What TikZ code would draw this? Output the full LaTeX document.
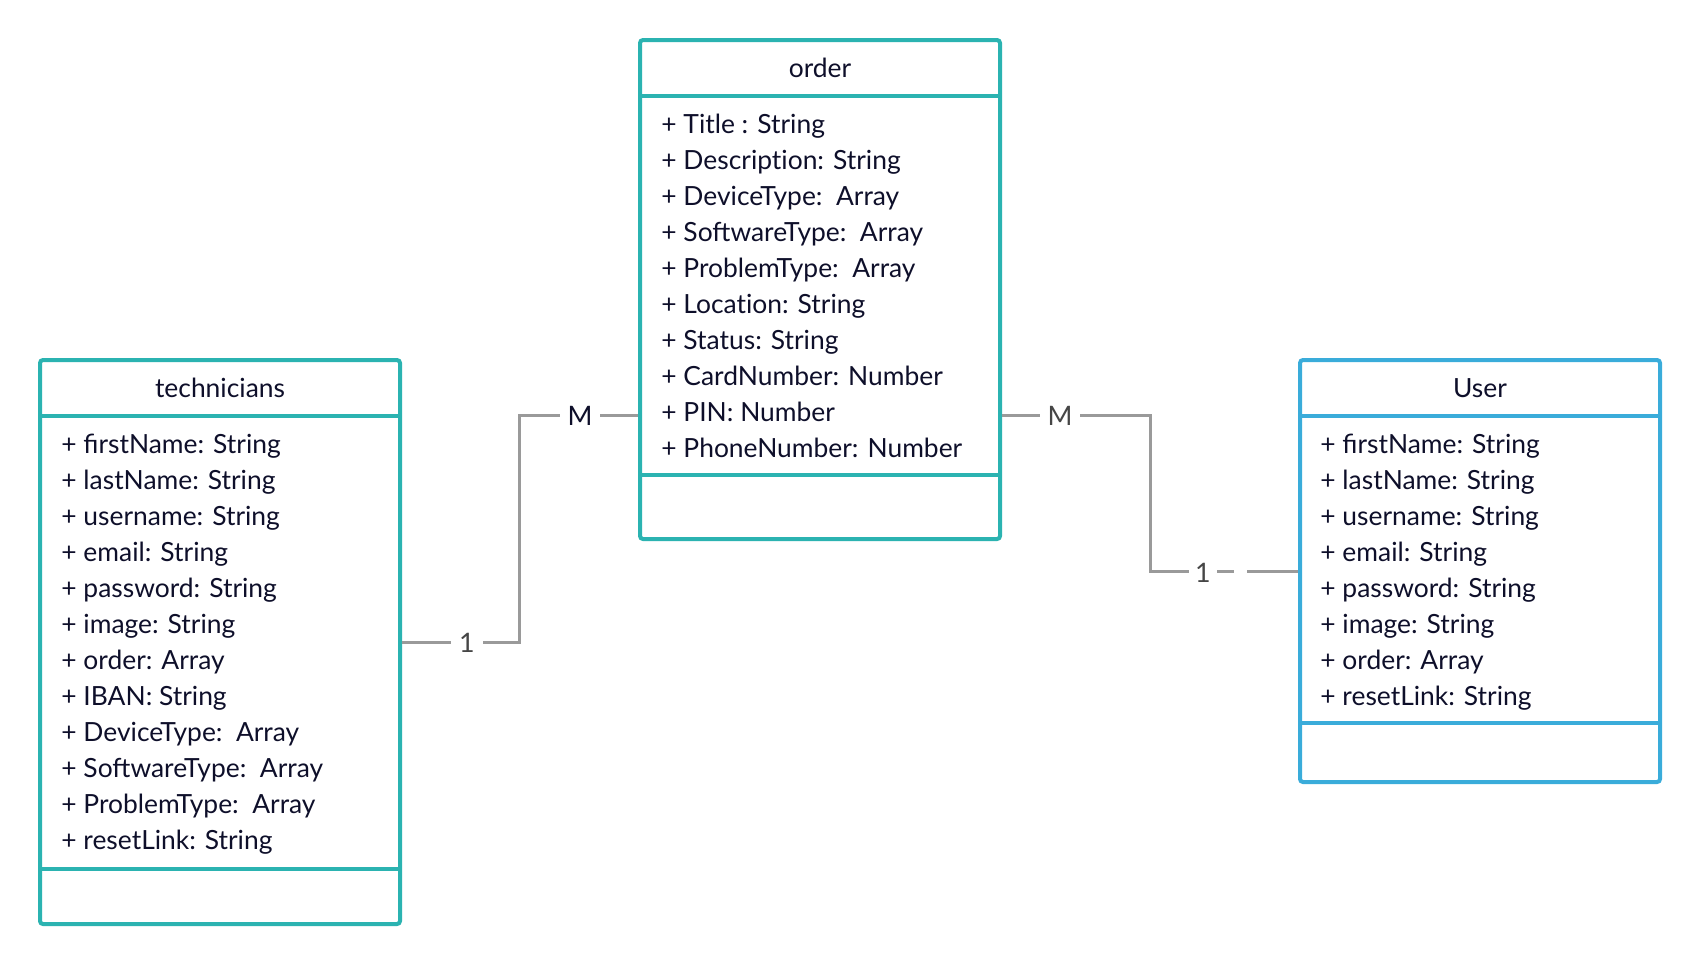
\documentclass[tikz,border=0pt]{standalone}
\usepackage{fontspec}
\setmainfont{Lato}
\definecolor{teal}{RGB}{43,179,177}
\definecolor{ublue}{RGB}{58,172,218}
\definecolor{ink}{RGB}{14,15,42}
\definecolor{conn}{RGB}{154,154,154}
\definecolor{lbl}{RGB}{70,70,70}
\tikzset{
  classbox/.style={draw=#1, line width=2pt, rounded corners=1.5pt, minimum width=180pt, inner sep=0pt},
  divider/.style={draw=#1, line width=2pt},
  title/.style={text=ink, font=\fontsize{13.2}{15}\selectfont, inner sep=0pt, anchor=base},
  row/.style={text=ink, font=\fontsize{13.2}{15}\selectfont, anchor=base west, inner sep=0pt},
  connector/.style={draw=conn, line width=1.5pt},
  mult/.style={fill=white, inner xsep=4pt, inner ysep=1.5pt, font=\fontsize{13.4}{15}\selectfont},
  gapbox/.style={fill=white, inner sep=0pt, minimum width=6.5pt, minimum height=3pt}
}
\begin{document}
\begin{tikzpicture}[x=0.5pt,y=-0.5pt]
\useasboundingbox (0,0) rectangle (1700,965);
% boxes
\node[classbox=teal, minimum height=249.5pt] (order) at (820,289.5) {};
\node[classbox=teal, minimum height=282pt] (tech) at (220,642) {};
\node[classbox=ublue, minimum height=211pt] (user) at (1480,571) {};
% dividers
\draw[divider=teal] (640,96) -- (1000,96);
\draw[divider=teal] (640,475) -- (1000,475);
\draw[divider=teal] (40,416) -- (400,416);
\draw[divider=teal] (40,869) -- (400,869);
\draw[divider=ublue] (1300,416) -- (1660,416);
\draw[divider=ublue] (1300,723) -- (1660,723);
% titles
\node[title] (orderT) at (820,77) {order};
\node[title] (techT) at (220,397) {technicians};
\node[title] (userT) at (1480,397) {User};
% order rows
\node[row] (o1) at (661,133) {+ Title : String};
\node[row] (o2) at (661,169) {+ Descript\kern0pt ion: String};
\node[row] (o3) at (661,205) {+ DeviceType:\ \ Array};
\node[row] (o4) at (661,241) {+ SoftwareType:\ \ Array};
\node[row] (o5) at (661,277) {+ ProblemType:\ \ Array};
\node[row] (o6) at (661,313) {+ Locat\kern0pt ion: String};
\node[row] (o7) at (661,349) {+ Status: String};
\node[row] (o8) at (661,385) {+ CardNumber: Number};
\node[row] (o9) at (661,421) {+ PIN: Number};
\node[row] (o10) at (661,457) {+ PhoneNumber: Number};
% technicians rows
\node[row] (t1) at (61,453) {+ firstName: String};
\node[row] (t2) at (61,489) {+ lastName: String};
\node[row] (t3) at (61,525) {+ username: String};
\node[row] (t4) at (61,561) {+ email: String};
\node[row] (t5) at (61,597) {+ password: String};
\node[row] (t6) at (61,633) {+ image: String};
\node[row] (t7) at (61,669) {+ order: Array};
\node[row] (t8) at (61,705) {+ IBAN: String};
\node[row] (t9) at (61,741) {+ DeviceType:\ \ Array};
\node[row] (t10) at (61,777) {+ SoftwareType:\ \ Array};
\node[row] (t11) at (61,813) {+ ProblemType:\ \ Array};
\node[row] (t12) at (61,849) {+ resetLink: String};
% user rows
\node[row] (u1) at (1320,453) {+ firstName: String};
\node[row] (u2) at (1320,489) {+ lastName: String};
\node[row] (u3) at (1320,525) {+ username: String};
\node[row] (u4) at (1320,561) {+ email: String};
\node[row] (u5) at (1320,597) {+ password: String};
\node[row] (u6) at (1320,633) {+ image: String};
\node[row] (u7) at (1320,669) {+ order: Array};
\node[row] (u8) at (1320,705) {+ resetLink: String};
% connectors
\coordinate (b1) at (519,642);
\coordinate (b2) at (519,415);
\coordinate (c1) at (1150,415);
\coordinate (c2) at (1150,571);
\draw[connector] (tech.east) -- (b1) -- (b2) -- (order.west |- b2);
\draw[connector] (order.east |- c1) -- (c1) -- (c2) -- (user.west);
% multiplicities
\node[mult, text=lbl] (m1) at (467,643) {1};
\node[mult, text=ink] (m2) at (580,416) {M};
\node[mult, text=lbl] (m3) at (1060,416) {M};
\node[mult, text=lbl, inner xsep=3pt] (m4) at (1203,573) {1};
\node[gapbox] (g4) at (1240,571) {};
\end{tikzpicture}
\end{document}
